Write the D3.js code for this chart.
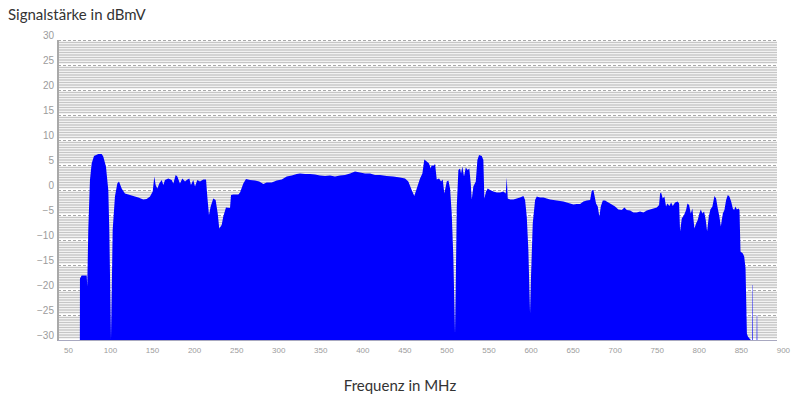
<!DOCTYPE html>
<html><head><meta charset="utf-8">
<script src="https://cdn.jsdelivr.net/npm/d3@7"></script>
<style>
html,body{margin:0;padding:0;background:#fff;}
svg{display:block;}
</style></head>
<body>
<svg id="chart" width="802" height="401"></svg>
<script>
// ---- data ----
const freqs = [64.2,64.3,66.3,72.3,73.0,74.2,76.2,78.2,81.0,86.1,90.1,92.0,95.2,98.0,99.2,101.2,103.2,105.9,108.7,110.7,113.9,117.8,123.8,127.7,133.7,139.6,143.6,147.6,150.8,152.7,154.3,156.3,158.6,161.5,163.4,165.4,169.3,173.4,175.3,178.1,180.1,183.2,186.0,189.2,191.2,194.3,196.3,199.0,201.1,203.8,207.0,210.9,214.2,215.7,217.7,219.7,222.8,225.6,228.1,229.9,232.8,234.7,237.9,242.7,243.9,246.6,252.6,254.6,258.5,261.7,266.5,272.4,277.5,282.3,286.3,292.3,298.2,304.2,310.1,316.1,322.0,325.9,331.9,337.8,343.8,349.7,355.7,361.6,367.5,373.5,379.4,385.4,391.3,397.3,403.2,409.2,415.1,421.1,429.0,436.9,444.8,450.8,454.7,458.7,461.8,464.7,468.6,471.4,473.7,476.6,479.3,481.3,482.5,484.4,486.5,488.5,491.2,493.6,495.6,497.5,500.4,502.3,504.3,506.3,508.2,510.2,511.0,512.3,514.2,516.2,517.4,518.9,520.9,523.0,525.3,527.2,528.9,530.1,532.0,534.9,536.8,538.8,542.0,543.9,545.1,547.1,549.1,551.9,555.8,559.8,563.7,567.7,570.5,571.7,572.9,575.6,579.6,583.6,587.5,591.5,593.5,595.5,597.4,599.4,600.6,602.6,605.4,607.4,611.3,615.3,619.2,623.2,627.2,631.1,635.1,639.1,643.0,647.0,651.0,654.9,658.9,662.8,666.8,670.8,672.8,674.7,675.9,677.9,679.9,681.8,683.5,685.9,688.6,692.5,696.6,700.5,704.4,708.5,711.6,714.4,718.4,722.3,726.3,730.2,734.2,738.2,742.1,746.1,750.1,752.8,754.0,755.2,757.2,759.1,761.1,762.7,765.1,767.1,769.1,771.8,775.0,776.6,777.8,779.8,782.5,784.9,786.5,788.5,790.5,792.4,794.8,796.8,798.8,800.7,802.4,804.3,806.3,808.3,809.9,811.9,813.8,816.2,818.6,820.6,822.6,824.5,826.2,828.6,830.5,832.5,834.5,836.4,838.5,840.5,842.0,843.6,845.3,847.2,848.4,849.6,852.4,854.0,855.6,857.2,858.4,860.3,862.0,863.6,863.8,864.2,864.4,868.8,869.0,869.4,869.6,870.0];
const levels = [-30,-17.7,-17.1,-17.1,-19.3,-8,2,5.3,6.8,7.2,7.2,6.7,4.7,0,-8,-30,-8,-1.3,1.3,1.7,0.3,-0.7,-1.0,-1.2,-1.5,-1.9,-1.8,-1.3,-0.3,2.7,1,0.3,1.3,2,1,2,2.3,2,1.3,3,2.7,1.3,2.3,1.7,2,2.3,1.0,2,0.7,2,1.7,2.1,2.1,-1.3,-5,-3.3,-1.7,-2,-4.7,-7.7,-7,-5.3,-3.5,-3.6,-1,-0.9,-0.9,-0.5,1.3,2.2,2.0,1.9,1.7,1.2,1.5,1.5,1.9,2.1,2.7,2.9,3.2,3.3,3.2,3.2,3.1,2.9,2.8,2.9,2.7,2.9,3,3.3,3.7,3.5,3.3,3.3,3,3,2.8,2.7,2.5,2.3,1.7,0,-1.2,0.3,2.3,3.3,6.1,5.7,5.3,4.3,5.0,4.8,5.2,2.1,2.3,1.7,2.1,-0.7,1.7,1.9,0.3,-4.7,-13.3,-28.7,-20,-3.3,4,4.3,3.3,4.7,2.7,4.5,4,4.3,1.3,-1.9,0.7,1.7,6,7,6.8,6,-1.7,-0.3,0.3,0,-0.3,-0.5,-0.5,-0.3,-0.7,2.5,-1.7,-1.9,-1.9,-1.7,-1.5,-1.2,-2,-5.3,-12,-24.7,-17,-6.7,-2,-1.3,-1.5,-1.5,-1.7,-1.9,-2,-2.1,-2.2,-2.3,-2.5,-2.7,-2.9,-2.8,-2.8,-2.3,-2.1,-2,-0.1,0,-1,-2.7,-3.3,-5.3,-3.3,-2.1,-2.1,-2.5,-2.9,-3.3,-3.9,-4,-3.5,-4,-4.1,-4.5,-4.5,-4.3,-4.5,-4.1,-3.9,-3.7,-3.5,-3,-0.7,-0.5,-1.7,-1.3,-3.3,-2.7,-3.2,-2.5,-3.2,-2.5,-2.3,-2.7,-8.3,-5.7,-5,-4,-2.7,-3,-4.7,-3.7,-7.7,-6.7,-6,-4.7,-3.9,-4.7,-4.3,-6,-8.3,-5.3,-3.9,-3.3,-1.2,-1.7,-3.7,-5.3,-7.3,-4.7,-4,-2,-1,-1.3,-2.3,-3.7,-4,-3.3,-3.9,-3.7,-4,-12.3,-12.7,-13.3,-15.7,-28.7,-29.3,-29.7,-30,-30,-19,-19,-30,-30,-25,-25,-30,-30];
const xTicks = [50,100,150,200,250,300,350,400,450,500,550,600,650,700,750,800,850,900];
const yTicks = [-30,-25,-20,-15,-10,-5,0,5,10,15,20,25,30];
const yTitle = "Signalstärke in dBmV";
const xTitle = "Frequenz in MHz";

(function () {
const svg = d3.select("#chart");
const pL = 58, pR = 777, pT = 40, pB = 340;
const x = d3.scaleLinear().domain([38.2, 893]).range([pL, pR]);
const y = d3.scaleLinear().domain([-30, 30]).range([pB, pT]);

// background stripes (minor grid every 0.5 dB)
const minor = d3.range(-30, 30.01, 0.5).filter(v => Math.abs(v % 5) > 0.01);
svg.append("g").selectAll("line").data(minor).join("line")
  .attr("x1", pL).attr("x2", pR)
  .attr("y1", d => y(d)).attr("y2", d => y(d))
  .attr("stroke", "#c6c6c6").attr("stroke-width", 1.5);
// major dashed lines
svg.append("g").selectAll("line").data(yTicks).join("line")
  .attr("x1", pL).attr("x2", pR)
  .attr("y1", d => Math.round(y(d)) + 0.5).attr("y2", d => Math.round(y(d)) + 0.5)
  .attr("stroke", "#a8a8a8").attr("stroke-width", 1).attr("stroke-dasharray", "3,2");

// spectrum area
const n = Math.min(freqs.length, levels.length);
const pts = d3.range(n).map(i => [freqs[i], levels[i]]);
const area = d3.area().x(d => x(d[0])).y0(y(-30)).y1(d => y(d[1]));
svg.append("clipPath").attr("id", "clip").append("rect")
  .attr("x", pL).attr("y", pT).attr("width", pR - pL).attr("height", pB - pT);
svg.append("path").datum(pts).attr("d", area).attr("fill", "#0000ff")
  .attr("clip-path", "url(#clip)");

// axis lines
svg.append("line").attr("x1", pL).attr("x2", pL).attr("y1", pT).attr("y2", pB + 1)
  .attr("stroke", "#a9a9a9").attr("stroke-width", 2);
svg.append("line").attr("x1", pL).attr("x2", pR).attr("y1", pB + 0.5).attr("y2", pB + 0.5)
  .attr("stroke", "#a8a8c0").attr("stroke-width", 1);

// y tick labels
const yAxis = d3.axisLeft(y).tickValues(yTicks).tickSize(0).tickPadding(3);
const gy = svg.append("g").attr("transform", `translate(${pL - 1},0)`).call(yAxis);
gy.select(".domain").remove();
gy.selectAll("text").attr("dy", "-0.15em").attr("fill", "#9c9c9c")
  .style("font-family", "'Liberation Sans', Arial, sans-serif").style("font-size", "10px");

// x tick labels
const xAxis = d3.axisBottom(x).tickValues(xTicks).tickSize(0).tickPadding(7);
const gx = svg.append("g").attr("transform", `translate(0,${pB})`).call(xAxis);
gx.select(".domain").remove();
gx.selectAll("text").attr("fill", "#9c9c9c")
  .style("font-family", "'Liberation Sans', Arial, sans-serif").style("font-size", "8px");

// titles
svg.append("text").attr("x", 8).attr("y", 20).text(yTitle)
  .attr("fill", "#333").style("font-family", "Lato, 'Open Sans', sans-serif").style("font-size", "15px");
svg.append("text").attr("x", 400).attr("y", 391).attr("text-anchor", "middle").text(xTitle)
  .attr("fill", "#333").style("font-family", "Lato, 'Open Sans', sans-serif").style("font-size", "15px");
})();
</script>
</body></html>
